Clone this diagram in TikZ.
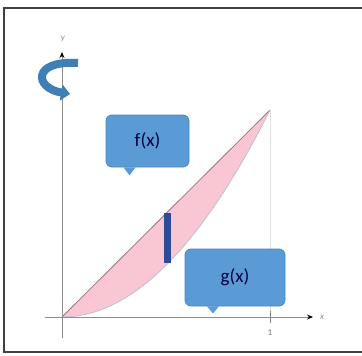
\documentclass[tikz,border=0pt]{standalone}
\usepackage{fontspec}
\setmainfont{Carlito}
\usetikzlibrary{arrows.meta}
\definecolor{callblue}{HTML}{5B9BD5}
\definecolor{callborder}{HTML}{4A86BE}
\definecolor{pinkfill}{HTML}{F9C6D3}
\definecolor{barblue}{HTML}{2E4A9A}
\definecolor{swirl}{HTML}{3F7FB5}
\tikzset{
  callout/.style={fill=callblue, draw=callborder, rounded corners=6pt, line width=0.8pt,
    minimum width=#1, text=black!75!blue, font=\fontsize{19}{21}\selectfont, inner sep=0pt},
  axisline/.style={draw=black!45, line width=0.8pt},
  axislabel/.style={text=black!45, font=\itshape\fontsize{9}{10}\selectfont},
}
\begin{document}
\begin{tikzpicture}[x=1pt,y=-1pt]
\useasboundingbox (0,0) rectangle (362,356);
\fill[white] (0,0) rectangle (362,356);
% frame
\draw[black!75, line width=1.6pt] (364,8) -- (4,8) -- (4,352) -- (364,352);
% vertical guide at x=1
\draw[black!12, line width=0.6pt] (270,110) -- (270,317);
% region between f and g
\fill[pinkfill] plot[domain=0:1, samples=60] ({62+208*\x},{317-207*\x})
  -- plot[domain=1:0, samples=60] ({62+208*\x},{317-207*\x*\x}) -- cycle;
\draw[black!40!pinkfill, line width=0.8pt] plot[domain=0:1, samples=2] ({62+208*\x},{317-207*\x});
\draw[blue!25!black!25, line width=0.8pt] plot[domain=0:1, samples=60] ({62+208*\x},{317-207*\x*\x});
% axes
\coordinate (xs) at (45,317);
\coordinate (xe) at (313,317);
\coordinate (ys) at (62,338);
\coordinate (ye) at (62,52);
\draw[axisline, -{Stealth[length=6pt,width=5pt,black]}] (xs) -- (xe);
\draw[axisline, -{Stealth[length=6pt,width=5pt,black]}] (ys) -- (ye);
\node[axislabel] (xl) at (322,317) {x};
\node[axislabel] (yl) at (63,39) {y};
\coordinate (t1a) at (270,311);
\coordinate (t1b) at (270,323);
\draw[black!50, line width=0.8pt] (t1a) -- (t1b);
\node[text=black!55, font=\fontsize{9}{10}\selectfont] (one) at (270,333) {1};
% bar
\fill[barblue] (164,213) rectangle (171,263);
% rotation arrow
\coordinate (sw1) at (78,63);
\coordinate (sw2) at (70,94);
\draw[swirl, line width=8pt, -{Triangle[length=9pt,width=16pt]}]
  (sw1) .. controls (32,60) and (34,88) .. (sw2);
% callouts
\node[callout=83pt, minimum height=52pt] (fbox) at (147.5,141) {f(x)};
\fill[callblue] ([xshift=-24pt]fbox.south) -- ([xshift=-12pt]fbox.south) -- ([xshift=-18pt,yshift=-8pt]fbox.south) -- cycle;
\node[callout=100pt, minimum height=57pt] (gbox) at (235,277.5) {g(x)};
\fill[callblue] ([xshift=-28pt]gbox.south) -- ([xshift=-16pt]gbox.south) -- ([xshift=-22pt,yshift=-7pt]gbox.south) -- cycle;
\end{tikzpicture}
\end{document}
